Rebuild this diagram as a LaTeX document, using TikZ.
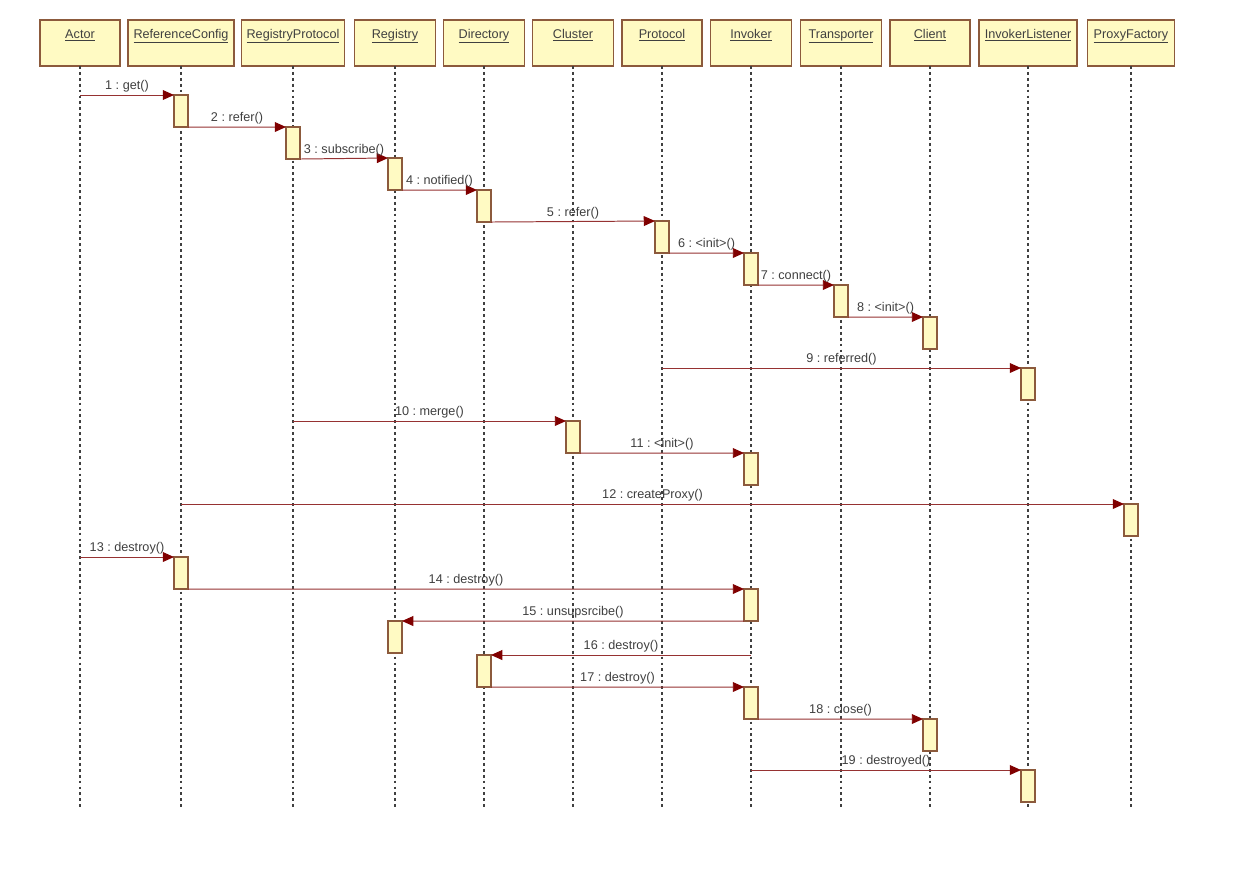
\documentclass[tikz,border=0pt]{standalone}
\usepackage{fontspec}
\setmainfont{Liberation Sans}
\frenchspacing
\usetikzlibrary{arrows.meta}
\definecolor{boxfill}{RGB}{255,250,195}
\definecolor{boxline}{RGB}{140,90,60}
\definecolor{msgline}{RGB}{150,50,50}
\definecolor{tipred}{RGB}{128,0,0}
\definecolor{txt}{RGB}{64,64,64}
\tikzset{
  head/.style={draw=boxline, fill=boxfill, line width=0.9pt, anchor=north,
    inner sep=0pt, outer sep=0pt, minimum height=1.15cm, text height=12.8pt, text depth=19.9pt,
    font=\fontsize{9}{11}\selectfont, text=txt},
  life/.style={gray!50!black, line width=0.75pt, dash pattern=on 2pt off 2.2pt},
  act/.style={draw=boxline, fill=boxfill, line width=0.9pt, anchor=north,
    inner sep=0pt, outer sep=0pt, minimum width=0.35cm, minimum height=0.8cm},
  msg/.style={msgline, line width=0.7pt,
    -{Triangle[length=8pt, width=7pt, color=tipred]}},
  lbl/.style={font=\fontsize{9}{11}\selectfont, text=txt, inner sep=1.5pt}
}
\begin{document}
\begin{tikzpicture}[x=0.025cm, y=-0.025cm]
        \useasboundingbox[fill=white] (0,0) rectangle (1240,877);

        % objects
        \node[head, minimum width=2cm] (actor) at (80,20) {\underline{Actor}};
        \node[head, minimum width=2.65cm] (refcfg) at (181,20) {\underline{ReferenceConfig}};
        \node[head, minimum width=2.575cm] (regproto) at (293,20) {\underline{RegistryProtocol}};
        \node[head, minimum width=2.025cm] (registry) at (395,20) {\underline{Registry}};
        \node[head, minimum width=2.025cm] (directory) at (484,20) {\underline{Directory}};
        \node[head, minimum width=2.025cm] (cluster) at (573,20) {\underline{Cluster}};
        \node[head, minimum width=2cm] (protocol) at (662,20) {\underline{Protocol}};
        \node[head, minimum width=2.025cm] (invoker) at (751,20) {\underline{Invoker}};
        \node[head, minimum width=2.025cm] (transp) at (841,20) {\underline{Transporter}};
        \node[head, minimum width=2cm] (client) at (930,20) {\underline{Client}};
        \node[head, minimum width=2.45cm] (invlist) at (1028,20) {\underline{InvokerListener}};
        \node[head, minimum width=2.175cm] (proxyfac) at (1131,20) {\underline{ProxyFactory}};

        % lifelines
        \coordinate (bottom) at (0,810);
        \draw[life] (actor.south) -- (actor.south |- bottom);
        \draw[life] (refcfg.south) -- (refcfg.south |- bottom);
        \draw[life] (regproto.south) -- (regproto.south |- bottom);
        \draw[life] (registry.south) -- (registry.south |- bottom);
        \draw[life] (directory.south) -- (directory.south |- bottom);
        \draw[life] (cluster.south) -- (cluster.south |- bottom);
        \draw[life] (protocol.south) -- (protocol.south |- bottom);
        \draw[life] (invoker.south) -- (invoker.south |- bottom);
        \draw[life] (transp.south) -- (transp.south |- bottom);
        \draw[life] (client.south) -- (client.south |- bottom);
        \draw[life] (invlist.south) -- (invlist.south |- bottom);
        \draw[life] (proxyfac.south) -- (proxyfac.south |- bottom);

        % activations
        \node[act] (act1) at (181,95) {};
        \node[act] (act2) at (293,127) {};
        \node[act] (act3) at (395,158) {};
        \node[act] (act4) at (484,190) {};
        \node[act] (act5) at (662,221) {};
        \node[act] (act6) at (751,253) {};
        \node[act] (act7) at (841,285) {};
        \node[act] (act8) at (930,317) {};
        \node[act] (act9) at (1028,368) {};
        \node[act] (act10) at (573,421) {};
        \node[act] (act11) at (751,453) {};
        \node[act] (act12) at (1131,504) {};
        \node[act] (act13) at (181,557) {};
        \node[act] (act14) at (751,589) {};
        \node[act] (act15) at (395,621) {};
        \node[act] (act16) at (484,655) {};
        \node[act] (act17) at (751,687) {};
        \node[act] (act18) at (930,719) {};
        \node[act] (act19) at (1028,770) {};

        % free message ends
        \coordinate (src1) at (80,95);
        \coordinate (src9) at (662,368);
        \coordinate (src10) at (293,421);
        \coordinate (src12) at (181,504);
        \coordinate (src13) at (80,557);
        \coordinate (src16) at (751,655);
        \coordinate (src19) at (751,770);

        % messages
        \draw[msg] (src1) -- (act1.north west) node[lbl, midway, above] {1 : get()};
        \draw[msg] (act1.south east) -- (act2.north west) node[lbl, midway, above] {2 : refer()};
        \draw[msg] (act2.south east) -- (act3.north west) node[lbl, midway, above] {3 : subscribe()};
        \draw[msg] (act3.south east) -- (act4.north west) node[lbl, midway, above] {4 : notified()};
        \draw[msg] (act4.south east) -- (act5.north west) node[lbl, midway, above] {5 : refer()};
        \draw[msg] (act5.south east) -- (act6.north west) node[lbl, midway, above] {6 : <init>()};
        \draw[msg] (act6.south east) -- (act7.north west) node[lbl, midway, above] {7 : connect()};
        \draw[msg] (act7.south east) -- (act8.north west) node[lbl, midway, above] {8 : <init>()};
        \draw[msg] (src9) -- (act9.north west) node[lbl, midway, above] {9 : referred()};
        \draw[msg] (src10) -- (act10.north west) node[lbl, midway, above] {10 : merge()};
        \draw[msg] (act10.south east) -- (act11.north west) node[lbl, midway, above] {11 : <init>()};
        \draw[msg] (src12) -- (act12.north west) node[lbl, midway, above] {12 : createProxy()};
        \draw[msg] (src13) -- (act13.north west) node[lbl, midway, above] {13 : destroy()};
        \draw[msg] (act13.south east) -- (act14.north west) node[lbl, midway, above] {14 : destroy()};
        \draw[msg] (act14.south west) -- (act15.north east) node[lbl, midway, above] {15 : unsupsrcibe()};
        \draw[msg] (src16) -- (act16.north east) node[lbl, midway, above] {16 : destroy()};
        \draw[msg] (act16.south east) -- (act17.north west) node[lbl, midway, above] {17 : destroy()};
        \draw[msg] (act17.south east) -- (act18.north west) node[lbl, midway, above] {18 : close()};
        \draw[msg] (src19) -- (act19.north west) node[lbl, midway, above] {19 : destroyed()};

    \end{tikzpicture}
\end{document}
